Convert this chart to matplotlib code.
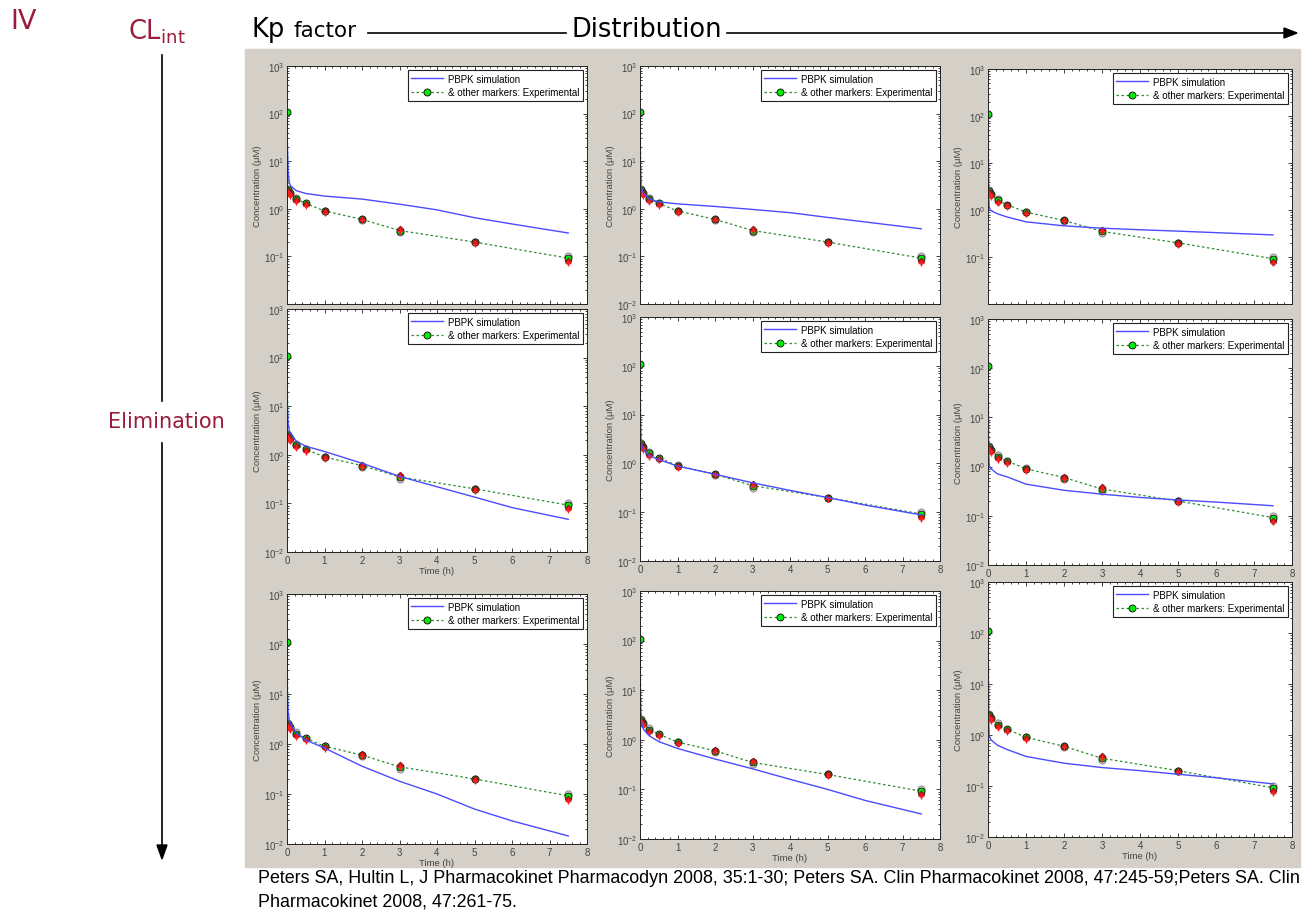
import matplotlib
matplotlib.use("Agg")
import matplotlib.pyplot as plt
from matplotlib.patches import Rectangle
from matplotlib.lines import Line2D
from matplotlib.ticker import LogLocator, MultipleLocator, NullFormatter

W, H = 1307, 912

# experimental points (same in every panel)
exp_t = [0, 0.033, 0.083, 0.25, 0.5, 1, 2, 3, 5, 7.5]
exp_green = [110, 2.5, 2.2, 1.6, 1.3, 0.9, 0.6, 0.35, 0.2, 0.092]
red_t = [0.017, 0.05, 0.083, 0.25, 0.5, 1, 2, 3, 5, 7.5]
exp_red = [2.4, 2.25, 2.05, 1.5, 1.25, 0.88, 0.62, 0.38, 0.2, 0.08]
gray_t = [0.033, 0.25, 1, 2, 3, 5, 7.5]
exp_gray = [2.6, 1.7, 0.92, 0.57, 0.32, 0.2, 0.1]

# PBPK simulations, row = elimination, col = distribution
sim_t = [0, 0.005, 0.01, 0.03, 0.06, 0.1, 0.25, 0.5, 1, 2, 3, 4, 5, 6, 7.5]
sim_11 = [110, 40, 22, 6, 3.6, 3.0, 2.4, 2.1, 1.85, 1.6, 1.25, 0.95, 0.65, 0.48, 0.31]
sim_12 = [110, 20, 8, 3.0, 2.4, 2.1, 1.6, 1.4, 1.27, 1.12, 0.97, 0.83, 0.66, 0.53, 0.38]
sim_13 = [110, 12, 4, 1.2, 1.0, 0.95, 0.83, 0.71, 0.56, 0.46, 0.41, 0.38, 0.355, 0.33, 0.295]
sim_21 = [110, 23, 10, 4.5, 3.2, 2.7, 1.9, 1.5, 1.17, 0.67, 0.36, 0.22, 0.135, 0.082, 0.047]
sim_22 = [110, 20, 7, 2.8, 2.2, 1.9, 1.45, 1.2, 0.88, 0.6, 0.4, 0.28, 0.2, 0.14, 0.088]
sim_23 = [110, 13, 4, 1.1, 0.95, 0.88, 0.71, 0.62, 0.44, 0.33, 0.275, 0.236, 0.21, 0.19, 0.16]
sim_31 = [110, 26, 10, 4.5, 3.0, 2.5, 1.65, 1.2, 0.83, 0.36, 0.18, 0.1, 0.05, 0.029, 0.0145]
sim_32 = [110, 20, 7, 2.6, 1.9, 1.6, 1.2, 0.92, 0.67, 0.41, 0.26, 0.16, 0.1, 0.06, 0.032]
sim_33 = [110, 12, 4, 1.0, 0.85, 0.78, 0.63, 0.52, 0.38, 0.28, 0.23, 0.2, 0.17, 0.145, 0.11]
sims = [[sim_11, sim_12, sim_13], [sim_21, sim_22, sim_23], [sim_31, sim_32, sim_33]]

leg_labels = ["PBPK simulation", "& other markers: Experimental"]
ylab = "Concentration (\u03bcM)"
xlab = "Time (h)"
citation = ["Peters SA, Hultin L, J Pharmacokinet Pharmacodyn 2008, 35:1-30; Peters SA. Clin Pharmacokinet 2008, 47:245-59;Peters SA. Clin",
            "Pharmacokinet 2008, 47:261-75."]

# pixel boxes (left, top, right, bottom)
cols = [(287, 587), (640, 940), (988, 1292)]
rows = [[(67, 305), (67, 305), (70, 305)],
        [(310, 553), (318, 562), (320, 566)],
        [(595, 845), (592, 840), (583, 838)]]

DARKRED = "#9b1b3a"
plt.rcParams['font.family'] = ['Liberation Sans', 'DejaVu Sans']


def rect(l, t, r, b):
    return [l / W, 1 - b / H, (r - l) / W, (b - t) / H]


fig = plt.figure(figsize=(W / 100, H / 100), dpi=100)
fig.patches.append(Rectangle((245 / W, 1 - 868 / H), 1055 / W, 818 / H,
                             transform=fig.transFigure, color="#d4d0c8", zorder=-10))

for i in range(3):
    for j in range(3):
        l, r = cols[j]
        t, b = rows[i][j]
        ax = fig.add_axes(rect(l, t, r, b))
        ax.set_zorder(1)
        ax.set_facecolor("white")
        ax.set_yscale("log")
        ax.set_xlim(0, 8)
        ax.set_ylim(1e-2, 1e3)
        ax.plot(gray_t, exp_gray, "o", ms=5, mfc="none", mec="#8a8a8a", mew=0.8)
        h_exp, = ax.plot(exp_t, exp_green, color="#2e8b2e", ls=(0, (2, 2)), lw=0.9,
                         marker="o", ms=5, mfc="#00ee00", mec="#1a1a1a", mew=0.7)
        ax.plot(red_t, exp_red, "D", ms=3.5, mfc="#e01010", mec="#5a1a1a", mew=0.5)
        ax.plot(red_t, [v * 0.92 for v in exp_red], "+", ms=5, color="#ff2020", mew=1)
        h_sim, = ax.plot(sim_t, sims[i][j], color="#4b4bff", lw=1)
        ax.xaxis.set_major_locator(MultipleLocator(1))
        ax.xaxis.set_minor_locator(MultipleLocator(0.2))
        if i == 0 and j != 1:
            # bottom decade hidden behind the panel below in the original screenshot
            ax.set_yticks([1e-1, 1, 10, 100, 1000])
        else:
            ax.yaxis.set_major_locator(LogLocator(base=10, numticks=10))
        ax.yaxis.set_minor_locator(LogLocator(base=10, subs=range(2, 10), numticks=10))
        ax.yaxis.set_minor_formatter(NullFormatter())
        ax.tick_params(which="both", direction="in", top=True, right=True,
                       labelsize=7, labelcolor="#444444", color="#222222", width=0.6)
        ax.tick_params(which="major", length=3, pad=2)
        ax.tick_params(which="minor", length=1.6)
        for s in ax.spines.values():
            s.set_color("#222222")
            s.set_linewidth(0.7)
        ax.set_ylabel(ylab, fontsize=6.8, color="#444444", labelpad=1)
        if i == 0:
            ax.tick_params(labelbottom=False)
        if i == 2 or (i == 1 and j == 0):
            ax.set_xlabel(xlab, fontsize=6.8, color="#444444", labelpad=1)
        leg = ax.legend([h_sim, h_exp], leg_labels, loc="upper right", fontsize=7,
                        frameon=True, fancybox=False, edgecolor="#222222", framealpha=1,
                        handlelength=3.3, borderaxespad=0.45, labelspacing=0.35,
                        borderpad=0.35, handletextpad=0.5)
        leg.get_frame().set_linewidth(0.8)

# header
fig.text(10 / W, 1 - 22 / H, "IV", fontsize=19.5, color=DARKRED, va="center",
         family="DejaVu Sans")
fig.text(128 / W, 1 - 32 / H, r"CL$_{\mathregular{int}}$", fontsize=18.5, color=DARKRED,
         va="center", family="DejaVu Sans")
fig.text(252 / W, 1 - 30 / H, "Kp", fontsize=18.5, color="black", va="center",
         family="DejaVu Sans")
fig.text(293 / W, 1 - 31 / H, "factor", fontsize=15.5, color="black", va="center",
         family="DejaVu Sans")
fig.add_artist(Line2D([368 / W, 566 / W], [1 - 34 / H, 1 - 34 / H], color="black", lw=1.2))
fig.text(572 / W, 1 - 30 / H, "Distribution", fontsize=18.5, color="black", va="center",
         family="DejaVu Sans")
fig.add_artist(Line2D([727 / W, 1288 / W], [1 - 34 / H, 1 - 34 / H], color="black", lw=1.2))
fig.add_artist(plt.Polygon([[1284 / W, 1 - 29 / H], [1297 / W, 1 - 34 / H], [1284 / W, 1 - 39 / H]],
                           closed=True, color="black", transform=fig.transFigure))

# left vertical arrow
fig.add_artist(Line2D([162 / W, 162 / W], [1 - 56 / H, 1 - 402 / H], color="black", lw=1.2))
fig.text(166 / W, 1 - 422 / H, "Elimination", fontsize=15, color=DARKRED, va="center",
         ha="center", family="DejaVu Sans")
fig.add_artist(Line2D([162 / W, 162 / W], [1 - 444 / H, 1 - 848 / H], color="black", lw=1.2))
fig.add_artist(plt.Polygon([[157 / W, 1 - 846 / H], [162 / W, 1 - 860 / H], [167 / W, 1 - 846 / H]],
                           closed=True, color="black", transform=fig.transFigure))

# citation
fig.text(258 / W, 1 - 879 / H, citation[0], fontsize=12.9, va="center",
         family=["Liberation Sans Narrow", "Liberation Sans"])
fig.text(258 / W, 1 - 902 / H, citation[1], fontsize=12.9, va="center",
         family=["Liberation Sans Narrow", "Liberation Sans"])

fig.savefig("out.png", dpi=100, facecolor="white")
